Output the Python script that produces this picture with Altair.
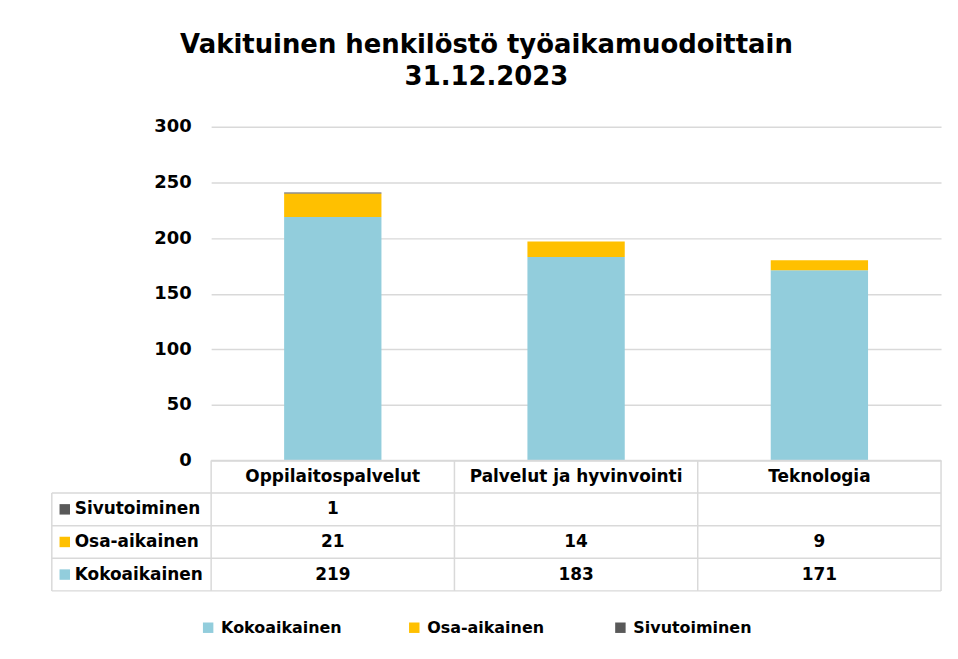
import altair as alt
import pandas as pd

# ---- data ----
categories = ["Oppilaitospalvelut", "Palvelut ja hyvinvointi", "Teknologia"]
series_names = ["Kokoaikainen", "Osa-aikainen", "Sivutoiminen"]
kokoaikainen = [219, 183, 171]
osa_aikainen = [21, 14, 9]
sivutoiminen = [1, None, None]
colors = ["#92CDDC", "#FFC000", "#595959"]
y_ticks = [0, 50, 100, 150, 200, 250, 300]
table_row_order = ["Sivutoiminen", "Osa-aikainen", "Kokoaikainen"]
title_lines = ["Vakituinen henkilöstö työaikamuodoittain", "31.12.2023"]

HEADER = "header"

rows = []
for s, vals in zip(series_names, [kokoaikainen, osa_aikainen, sivutoiminen]):
    for c, v in zip(categories, vals):
        if v is not None:
            rows.append({"category": c, "series": s, "value": v,
                         "order": series_names.index(s), "row": s, "text": str(v)})
df = pd.DataFrame(rows)

header_df = pd.DataFrame({"category": categories, "row": HEADER, "text": categories})
label_df = pd.DataFrame({"row": table_row_order, "series": table_row_order})
hrule_df = pd.DataFrame({"row": [HEADER] + table_row_order})
top_df = pd.DataFrame({"row": [HEADER]})
left_df = pd.DataFrame({"row": [table_row_order[0]]})
cat_df = pd.DataFrame({"category": categories})
last_cat_df = pd.DataFrame({"category": [categories[-1]]})

FONT = "DejaVu Sans"
GRID = "#d9d9d9"
W = 733
H_BAR = 335
H_TAB = 131
LABEL_COL = 160

color_scale = alt.Scale(domain=series_names, range=colors)

# ---- bar chart ----
bars = alt.Chart(df).mark_bar().encode(
    x=alt.X("category:N", sort=categories, axis=None,
            scale=alt.Scale(domain=categories, paddingInner=0.6, paddingOuter=0.3)),
    y=alt.Y("value:Q", stack="zero", scale=alt.Scale(domain=[0, 300]),
            axis=alt.Axis(values=y_ticks, title=None, domain=False, ticks=False,
                          grid=True, gridColor=GRID, gridWidth=1.5,
                          labelFont=FONT, labelFontWeight="bold", labelFontSize=18,
                          labelColor="black", labelPadding=20)),
    color=alt.Color("series:N", scale=color_scale,
                    legend=alt.Legend(title=None, orient="none", direction="horizontal",
                                      legendX=-11, legendY=495, symbolType="square",
                                      symbolSize=110, symbolStrokeWidth=0,
                                      labelFont=FONT, labelFontWeight="bold",
                                      labelFontSize=16, labelColor="black",
                                      labelOffset=5, columnPadding=64, gridAlign="all")),
    order=alt.Order("order:Q"),
).properties(width=W, height=H_BAR)

# ---- data table ----
x_tab = alt.Scale(domain=categories, paddingInner=0, paddingOuter=0)
y_tab = alt.Scale(domain=[HEADER] + table_row_order, paddingInner=0, paddingOuter=0)

def xt(**kw):
    return alt.X("category:N", scale=x_tab, sort=categories, axis=None, **kw)

def yt(**kw):
    return alt.Y("row:N", scale=y_tab, sort=[HEADER] + table_row_order, axis=None, **kw)

line = dict(color=GRID, strokeWidth=1.5)
txt = dict(font=FONT, fontWeight="bold", fontSize=17, color="black", baseline="middle")

hrules = alt.Chart(hrule_df).mark_rule(**line).encode(
    y=yt(bandPosition=1), x=alt.value(-LABEL_COL), x2=alt.value(W))
toprule = alt.Chart(top_df).mark_rule(**line).encode(
    y=yt(bandPosition=0), x=alt.value(0), x2=alt.value(W))
vrules = alt.Chart(cat_df).mark_rule(**line).encode(
    x=xt(bandPosition=0), y=alt.value(0), y2=alt.value(H_TAB))
rightrule = alt.Chart(last_cat_df).mark_rule(**line).encode(
    x=xt(bandPosition=1), y=alt.value(0), y2=alt.value(H_TAB))
leftrule = alt.Chart(left_df).mark_rule(**line).encode(
    y=yt(bandPosition=0), y2=alt.value(H_TAB), x=alt.value(-LABEL_COL))

header_text = alt.Chart(header_df).mark_text(align="center", **txt).encode(
    x=xt(), y=yt(), text="text:N")
value_text = alt.Chart(df).mark_text(align="center", **txt).encode(
    x=xt(), y=yt(), text="text:N")
squares = alt.Chart(label_df).mark_square(size=110, opacity=1).encode(
    x=alt.value(-147), y=yt(),
    color=alt.Color("series:N", scale=color_scale, legend=None))
row_labels = alt.Chart(label_df).mark_text(align="left", **txt).encode(
    x=alt.value(-137), y=yt(), text="row:N")

table = alt.layer(hrules, toprule, vrules, rightrule, leftrule,
                  header_text, value_text, squares, row_labels).properties(
    width=W, height=H_TAB)

chart = alt.vconcat(bars, table, spacing=0, bounds="flush").properties(
    title=alt.TitleParams(text=title_lines, font=FONT, fontSize=26, fontWeight="bold",
                          color="black", anchor="middle", dx=-10, offset=28,
                          lineHeight=32),
    padding={"left": 42, "top": 22, "right": 7, "bottom": 8},
).configure_view(stroke="transparent")

chart.save("out.html", embed_options={"renderer": "svg", "actions": False})
